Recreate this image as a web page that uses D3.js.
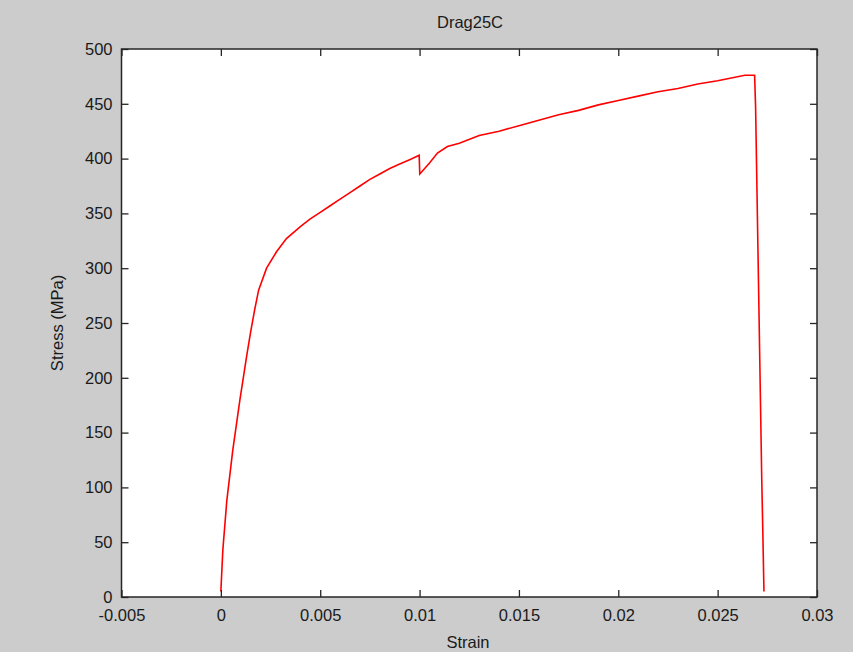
<!DOCTYPE html>
<html><head><meta charset="utf-8">
<script src="https://cdn.jsdelivr.net/npm/d3@7"></script>
<style>
html,body{margin:0;padding:0;background:#cccccc;}
svg{display:block;}
text{font-family:"Liberation Sans",Arial,sans-serif;fill:#1a1a1a;}
</style></head>
<body>
<svg id="chart" width="853" height="652"></svg>
<script>
const title = "Drag25C";
const xLabel = "Strain";
const yLabel = "Stress (MPa)";
const xTicks = [-0.005, 0, 0.005, 0.01, 0.015, 0.02, 0.025, 0.03];
const xTickLabels = ["-0.005", "0", "0.005", "0.01", "0.015", "0.02", "0.025", "0.03"];
const yTicks = [0, 50, 100, 150, 200, 250, 300, 350, 400, 450, 500];
const strain = [0, 0.0001, 0.0003, 0.0006, 0.00096, 0.0013, 0.0015, 0.0017, 0.0019, 0.0023, 0.0028, 0.0033, 0.004, 0.0045, 0.005,
  0.0055, 0.006, 0.0065, 0.007, 0.0075, 0.008, 0.0085, 0.009, 0.0095, 0.00998, 0.01001, 0.0105, 0.0109, 0.0114, 0.012, 0.013,
  0.014, 0.015, 0.016, 0.017, 0.018, 0.019, 0.020, 0.021, 0.022, 0.023, 0.024, 0.025, 0.02637, 0.02686,
  0.02691, 0.02722, 0.02727, 0.02733];
const stress = [5, 43, 88, 134, 180, 220, 242, 262, 280, 300, 315, 327, 338, 345, 351,
  357, 363, 369, 375, 381, 386, 391, 395, 399, 403, 386, 396, 405, 411, 414, 421,
  425, 430, 435, 440, 444, 449, 453, 457, 461, 464, 468, 471, 476, 476,
  447, 107, 63, 5];

const svg = d3.select("#chart");
const L = 121.5, R = 817, T = 49, B = 597;
const x = d3.scaleLinear().domain([-0.005, 0.03]).range([L, R]);
const y = d3.scaleLinear().domain([0, 500]).range([B, T]);

svg.append("rect").attr("x", L).attr("y", T).attr("width", R - L).attr("height", B - T).attr("fill", "#fff");

const data = strain.map((s, i) => [s, stress[i]]);
svg.append("path").datum(data)
  .attr("fill", "none").attr("stroke", "#ff0000").attr("stroke-width", 1.6)
  .attr("d", d3.line().x(d => x(d[0])).y(d => y(d[1])));

const fs = 16.5;
const tl = 7;
const gB = svg.append("g").attr("transform", `translate(0,${B})`)
  .call(d3.axisBottom(x).tickValues(xTicks).tickSizeInner(-tl).tickSizeOuter(0).tickPadding(12).tickFormat((d, i) => xTickLabels[i]));
const gT = svg.append("g").attr("transform", `translate(0,${T})`)
  .call(d3.axisTop(x).tickValues(xTicks).tickSizeInner(-tl).tickSizeOuter(0).tickFormat(""));
const gL = svg.append("g").attr("transform", `translate(${L},0)`)
  .call(d3.axisLeft(y).tickValues(yTicks).tickSizeInner(-tl).tickSizeOuter(0).tickPadding(9));
const gR = svg.append("g").attr("transform", `translate(${R},0)`)
  .call(d3.axisRight(y).tickValues(yTicks).tickSizeInner(-tl).tickSizeOuter(0).tickFormat(""));
[gB, gT, gL, gR].forEach(g => {
  g.selectAll(".domain").remove();
  g.selectAll(".tick line").attr("stroke", "#262626").attr("stroke-width", 1.3);
  g.selectAll(".tick text").attr("font-size", fs).attr("font-family", '"Liberation Sans",Arial,sans-serif').attr("fill", "#1a1a1a");
});
svg.append("rect").attr("x", L).attr("y", T).attr("width", R - L).attr("height", B - T)
  .attr("fill", "none").attr("stroke", "#262626").attr("stroke-width", 1.5);

svg.append("text").attr("x", 470).attr("y", 28).attr("text-anchor", "middle").attr("font-size", fs).text(title);
svg.append("text").attr("x", 468).attr("y", 648).attr("text-anchor", "middle").attr("font-size", fs).text(xLabel);
svg.append("text").attr("transform", "translate(63,323) rotate(-90)").attr("text-anchor", "middle").attr("font-size", fs).text(yLabel);
</script>
</body></html>
